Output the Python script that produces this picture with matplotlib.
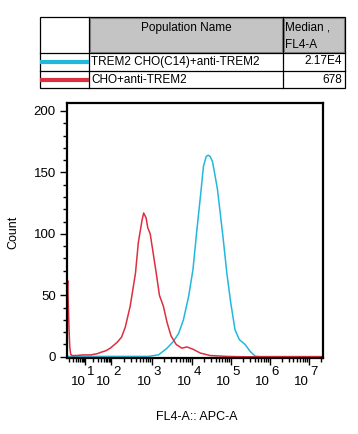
import numpy as np
import matplotlib
matplotlib.use("Agg")
import matplotlib.pyplot as plt
from matplotlib.patches import Rectangle

plt.rcParams['font.family'] = ['Liberation Sans', 'DejaVu Sans']

# histogram data, x in decades (log10 of FL4-A), y in counts
trem2_x = [0.2, 2.9, 2.95, 3.16, 3.37, 3.53, 3.66, 3.78, 3.91, 4.02, 4.12, 4.21, 4.29,
           4.36, 4.41, 4.46, 4.52, 4.59, 4.65, 4.72, 4.80, 4.89, 4.99, 5.10, 5.21,
           5.36, 5.49, 5.62, 5.74, 7.36]
trem2_y = [0.3, 0.3, 0.5, 1.6, 7, 12.5, 19, 30, 49, 71, 103, 130, 155,
           163, 164, 163, 159, 147, 136, 117, 95, 68, 44, 22, 14,
           10, 4.3, 0.5, 0.2, 0.2]

cho_x = [0.2, 0.23, 0.26, 0.29, 0.32, 0.36, 0.42, 0.6, 0.9, 1.2, 1.46, 1.58, 1.8, 1.96,
         2.15, 2.25, 2.34, 2.46, 2.59, 2.66, 2.75, 2.79, 2.82, 2.85, 2.89, 2.95,
         3.02, 3.10, 3.18, 3.28, 3.37, 3.47, 3.60, 3.74, 3.87, 3.95, 4.03, 4.21,
         4.46, 4.89, 5.3, 7.36]
cho_y = [50, 62, 40, 22, 8, 2, 1, 1, 1.5, 1.5, 2.5, 3.5, 5, 7,
         12, 16, 24, 41, 68, 93, 111, 117, 115, 113, 105, 100,
         85, 68, 50, 41, 28, 17, 10, 7, 8, 7, 6, 3,
         1, 0.3, 0, 0]

names = ["TREM2 CHO(C14)+anti-TREM2", "CHO+anti-TREM2"]
medians = ["2.17E4", "678"]
colors = ["#22b8dc", "#dc2f40"]

y_major = [0, 50, 100, 150, 200]
x_decades = [1, 2, 3, 4, 5, 6, 7]

# FlowJo-like display: decades are not evenly spaced at the low end
dec_anchor = [0, 1, 2, 3, 4, 5, 6, 7, 8]
pos_anchor = [62, 85, 111, 152, 192, 231, 270, 309, 348]

def fwd(v):
    return np.interp(v, dec_anchor, pos_anchor)

def inv(p):
    return np.interp(p, pos_anchor, dec_anchor)

fig = plt.figure(figsize=(3.58, 4.34), dpi=100)
ax = fig.add_axes([67/358, 76/434, 256/358, 255/434])
ax.set_xscale('function', functions=(fwd, inv))

ax.plot(trem2_x, trem2_y, color=colors[0], lw=1.1)
ax.plot(cho_x, cho_y, color=colors[1], lw=1.1)

ax.set_xlim(0.2, 7.36)
ax.set_ylim(-1, 206.5)

ax.set_yticks(y_major)
ax.set_yticks(np.arange(0, 210, 10), minor=True)
ax.tick_params(axis='y', which='major', length=5, width=1, labelsize=9.5, pad=3)
ax.tick_params(axis='y', which='minor', length=3, width=1)

minor_x = []
for d in range(0, 8):
    for k in range(2, 10):
        v = d + np.log10(k)
        if 0.2 < v < 7.36:
            minor_x.append(v)
ax.set_xticks(x_decades)
ax.set_xticklabels([])
ax.set_xticks(minor_x, minor=True)
ax.tick_params(axis='x', which='major', length=5, width=1)
ax.tick_params(axis='x', which='minor', length=3, width=1)

for d in x_decades:
    ax.annotate("10", xy=(d, 0), xycoords=('data', 'axes fraction'),
                xytext=(0, -17), textcoords='offset points',
                ha='right', va='center', fontsize=9.5)
    ax.annotate(str(d), xy=(d, 0), xycoords=('data', 'axes fraction'),
                xytext=(1.2, -10), textcoords='offset points',
                ha='left', va='center', fontsize=9.5)

for s in ax.spines.values():
    s.set_linewidth(1.6)

fig.text(13/358, 1 - 232/434, "Count", rotation=90, ha='center', va='center', fontsize=9)
fig.text(197/358, 1 - 417/434, "FL4-A:: APC-A", ha='center', va='center', fontsize=9)

# table at the top, drawn in pixel coordinates
tab = fig.add_axes([0, 0, 1, 1])
tab.set_xlim(0, 358)
tab.set_ylim(434, 0)
tab.axis('off')

tab.add_patch(Rectangle((90, 18), 192, 34, facecolor='#c4c4c4', edgecolor='#8a8a8a', lw=0.8))
tab.add_patch(Rectangle((284, 18), 60, 34, facecolor='#c4c4c4', edgecolor='#8a8a8a', lw=0.8))
tab.add_patch(Rectangle((40, 17), 305, 71, facecolor='none', edgecolor='black', lw=0.9))
tab.plot([40, 345], [52.5, 52.5], color='black', lw=0.9)
tab.plot([40, 345], [70.5, 70.5], color='black', lw=0.9)
tab.plot([89, 89], [17, 88], color='black', lw=0.9)
tab.plot([283, 283], [17, 88], color='black', lw=0.9)

tab.text(186, 28, "Population Name", ha='center', va='center', fontsize=8.5)
tab.text(285, 28, "Median ,", ha='left', va='center', fontsize=8.5)
tab.text(285, 45, "FL4-A", ha='left', va='center', fontsize=8.5)

row_y = [61.5, 80]
for i in range(len(names)):
    tab.plot([40, 89], [row_y[i], row_y[i]], color=colors[i], lw=3, solid_capstyle='butt')
    tab.text(91, row_y[i], names[i], ha='left', va='center', fontsize=8.5)
    tab.text(342, row_y[i], medians[i], ha='right', va='center', fontsize=8.5)

fig.savefig("out.png", dpi=100)
